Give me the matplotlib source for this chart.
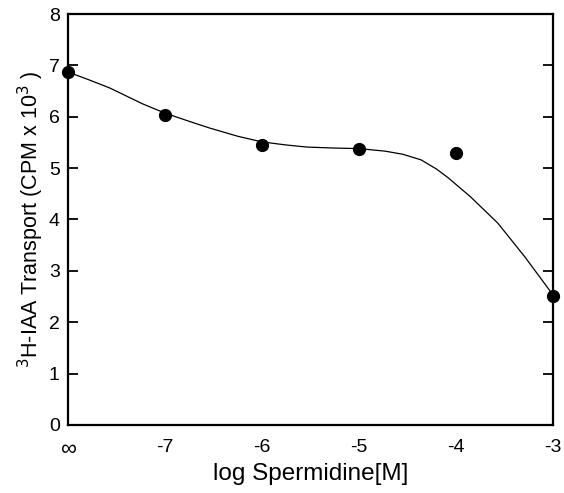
import matplotlib.pyplot as plt

# measured points (x = log [spermidine], -8 stands for the "infinity" control)
conc = [-8, -7, -6, -5, -4, -3]
transport = [6.88, 6.03, 5.45, 5.38, 5.29, 2.52]

# hand-drawn fit curve
curve_x = [-8, -7.8, -7.57, -7.23, -7.0, -6.75, -6.54, -6.25, -6.0, -5.75,
           -5.54, -5.25, -5.0, -4.73, -4.55, -4.36, -4.2, -4.08, -3.85,
           -3.57, -3.29, -3.0]
curve_y = [6.87, 6.73, 6.56, 6.25, 6.07, 5.91, 5.78, 5.62, 5.51, 5.45,
           5.41, 5.39, 5.38, 5.33, 5.27, 5.16, 4.98, 4.81, 4.44,
           3.93, 3.27, 2.53]

xticks = [-8, -7, -6, -5, -4, -3]
xtick_labels = ["\u221e", "-7", "-6", "-5", "-4", "-3"]
yticks = [0, 1, 2, 3, 4, 5, 6, 7, 8]


def main():
    plt.rcParams["font.family"] = ["Liberation Sans", "DejaVu Sans"]
    fig = plt.figure(figsize=(5.64, 4.93), dpi=100)
    ax = fig.add_axes([0.1206, 0.138, 0.86, 0.8336])

    ax.plot(curve_x, curve_y, color="black", lw=0.9)
    ax.plot(conc, transport, "o", color="black", ms=8.5, clip_on=False, zorder=3)

    ax.set_xlim(-8, -3)
    ax.set_ylim(0, 8)
    ax.set_xticks(xticks)
    ax.set_yticks(yticks)

    for s in ax.spines.values():
        s.set_linewidth(1.6)
    ax.tick_params(axis="y", direction="in", length=7, width=1.3,
                   right=True, labelsize=14, pad=6)
    ax.tick_params(axis="x", length=0, labelsize=14, pad=10)
    ax.set_xticklabels(xtick_labels)
    ax.get_xticklabels()[0].set_fontsize(16)

    ax.set_xlabel("log Spermidine[M]", fontsize=17.5)
    ax.xaxis.set_label_coords(0.5, -0.092)
    ax.set_ylabel(r"$^{3}$H-IAA Transport (CPM x 10$^{3}$ )", fontsize=15.5,
                  labelpad=2)

    fig.savefig("out.png", dpi=100)


if __name__ == "__main__":
    main()
